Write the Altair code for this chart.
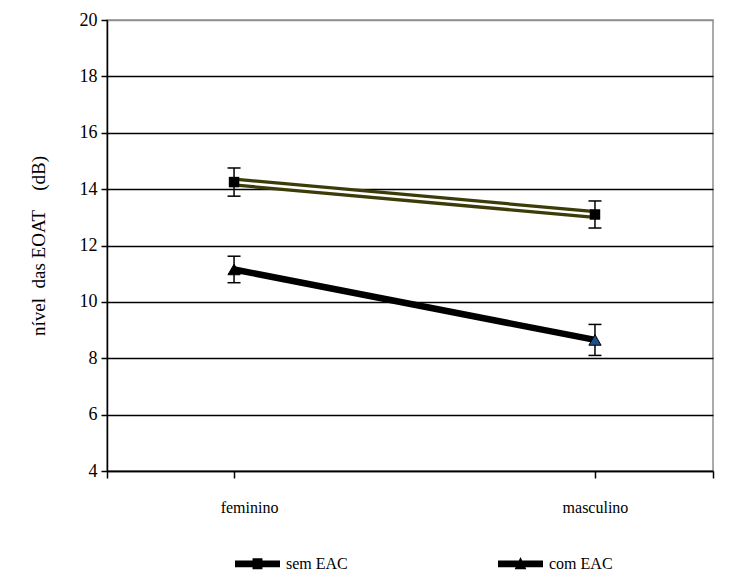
import altair as alt
import pandas as pd

categories = ["feminino", "masculino"]
series = ["sem EAC", "com EAC"]
sem_mean = [14.25, 13.1]
sem_err = [0.5, 0.48]
com_mean = [11.15, 8.65]
com_err = [0.47, 0.55]
y_ticks = [4, 6, 8, 10, 12, 14, 16, 18, 20]

rows = []
for s, means, errs in [(series[0], sem_mean, sem_err), (series[1], com_mean, com_err)]:
    for i, c in enumerate(categories):
        rows.append(dict(serie=s, cat=c, idx=i, mean=means[i],
                         lo=means[i] - errs[i], hi=means[i] + errs[i]))
df = pd.DataFrame(rows)

FONT = "Times New Roman, Liberation Serif, serif"
x_lo, x_hi = -0.352, 1.327
label_expr = " : ".join(f"datum.value == {i} ? '{c}'" for i, c in enumerate(categories)) + " : ''"

x_enc = alt.X("idx:Q",
              scale=alt.Scale(domain=[x_lo, x_hi], nice=False, zero=False),
              axis=alt.Axis(values=[x_lo, 0, 1, x_hi], labelExpr=label_expr, grid=False,
                            labelFont=FONT, labelFontSize=16, labelColor="black",
                            labelOffset={"condition": {"test": "datum.value == 0", "value": 15}, "value": 0},
                            tickColor="black", tickSize=7, tickWidth=1.5,
                            domainColor="black", domainWidth=1.5, labelPadding=21),
              title=None)
y_axis = alt.Axis(values=y_ticks, grid=True,
                  gridColor={"condition": {"test": "datum.value == 20", "value": "#909090"}, "value": "black"},
                  gridWidth=1.5,
                  labelFont=FONT, labelFontSize=18, labelColor="black", labelPadding=4,
                  tickColor="black", tickSize=6, tickWidth=1.5,
                  domainColor="black", domainWidth=1.5,
                  titleFont=FONT, titleFontSize=19, titleFontWeight="normal", titleColor="black",
                  titlePadding=31)
y_scale = alt.Scale(domain=[4, 20], nice=False, zero=False)
y_title = "nível\u00a0\u00a0das EOAT\u00a0\u00a0\u00a0\u00a0(dB)"
y_enc = alt.Y("mean:Q", scale=y_scale, axis=y_axis, title=y_title)

base = alt.Chart(df)
sem = base.transform_filter(alt.datum.serie == series[0])
com = base.transform_filter(alt.datum.serie == series[1])

line_sem_outer = sem.mark_line(color="#3c3c08", strokeWidth=9, strokeCap="butt").encode(x=x_enc, y=y_enc)
line_sem_inner = sem.mark_line(color="white", strokeWidth=2.5, strokeCap="butt").encode(x=x_enc, y=y_enc)
line_com = com.mark_line(color="black", strokeWidth=6.5, strokeCap="butt").encode(x=x_enc, y=y_enc)

err_rule = base.mark_rule(color="black", strokeWidth=1.5).encode(
    x=x_enc, y=alt.Y("lo:Q", scale=y_scale, axis=y_axis, title=y_title), y2="hi:Q")
cap_lo = base.mark_tick(color="black", orient="horizontal", size=13, thickness=1.5, opacity=1).encode(
    x=x_enc, y=alt.Y("lo:Q", scale=y_scale, axis=y_axis, title=y_title))
cap_hi = base.mark_tick(color="black", orient="horizontal", size=13, thickness=1.5, opacity=1).encode(
    x=x_enc, y=alt.Y("hi:Q", scale=y_scale, axis=y_axis, title=y_title))

squares = sem.mark_point(shape="square", filled=True, size=110, color="black", opacity=1).encode(x=x_enc, y=y_enc)
triangles = com.mark_point(shape="triangle-up", filled=True, size=150, opacity=1,
                           stroke="black", strokeWidth=1).encode(
    x=x_enc, y=y_enc,
    fill=alt.condition(alt.datum.idx == 1, alt.value("#1f4e89"), alt.value("black")))

path_sem = "M-1,-0.15H1V0.15H-1Z M-0.22,-0.24H0.22V0.24H-0.22Z"
path_com = "M-1,-0.15H1V0.15H-1Z M0,-0.3L0.26,0.24H-0.26Z"

legend_layer = base.transform_filter(alt.datum.idx == 0).mark_point(
    filled=True, size=0, color="black").encode(
    x=x_enc, y=y_enc,
    shape=alt.Shape("serie:N",
                    scale=alt.Scale(domain=series, range=[path_sem, path_com]),
                    legend=alt.Legend(orient="none", legendX=128, legendY=521,
                                      direction="horizontal", title=None,
                                      symbolSize=2025, symbolFillColor="black",
                                      symbolStrokeColor="black", symbolStrokeWidth=0,
                                      symbolOpacity=1, padding=0,
                                      labelFont=FONT, labelFontSize=16, labelColor="black",
                                      labelOffset=6, columnPadding=150)))

chart = alt.layer(line_sem_outer, line_sem_inner, line_com, err_rule, cap_lo, cap_hi,
                  squares, triangles, legend_layer).properties(
    width=606, height=451,
    autosize=alt.AutoSizeParams(type="none"),
    padding={"left": 99, "top": 12, "right": 16, "bottom": 120},
    background="white",
).configure_view(stroke="#909090", strokeWidth=1.5)

chart.save("out.html", embed_options={"renderer": "svg", "actions": False})
